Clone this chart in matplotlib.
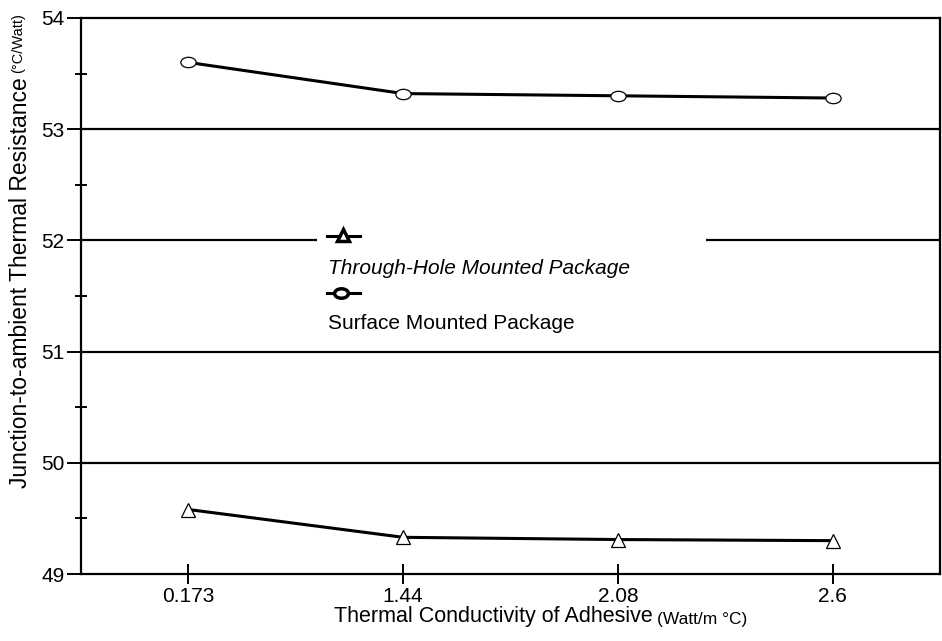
import matplotlib
matplotlib.use("Agg")
import matplotlib.pyplot as plt
from matplotlib.lines import Line2D
from matplotlib.patches import Rectangle
from matplotlib.path import Path
from matplotlib.transforms import Affine2D
from matplotlib.ticker import MultipleLocator

plt.rcParams["font.family"] = ["Liberation Sans", "DejaVu Sans"]

# data
conductivity = ["0.173", "1.44", "2.08", "2.6"]
through_hole = [49.58, 49.33, 49.31, 49.30]
surface = [53.60, 53.32, 53.30, 53.28]
labels = ["Through-Hole Mounted Package", "Surface Mounted Package"]

# flat open circle like the scanned original
ellipse = Path.unit_circle().transformed(Affine2D().scale(1.0, 0.68))

fig = plt.figure(figsize=(9.42, 6.41), dpi=100)
ax = fig.add_axes([0.086, 0.1045, 0.912, 0.8675])

x = list(range(1, len(conductivity) + 1))
ax.plot(x, surface, color="black", lw=2.2, marker=ellipse, ms=11,
        mfc="white", mec="black", mew=0.9, zorder=3)
ax.plot(x, through_hole, color="black", lw=2.2, marker="^", ms=10,
        mfc="white", mec="black", mew=0.9, zorder=3)

ax.set_xlim(0.5, 4.5)
ax.set_ylim(49, 54)
ax.set_xticks(x)
ax.set_xticklabels(conductivity)
ax.yaxis.set_major_locator(MultipleLocator(1))
ax.yaxis.set_minor_locator(MultipleLocator(0.5))

# gridlines at every integer
for v in range(50, 54):
    ax.axhline(v, color="black", lw=1.6, zorder=1)

for s in ["left", "bottom", "top", "right"]:
    ax.spines[s].set_linewidth(1.6)

ax.tick_params(axis="y", which="major", direction="out", length=10, width=1.4,
               labelsize=15, pad=2)
ax.tick_params(axis="y", which="minor", direction="inout", length=8, width=1.4)
ax.tick_params(axis="x", which="major", direction="inout", length=14, width=1.4,
               labelsize=15, pad=2)

# legend (stacked marker line above each label, white box over gridline)
ax.add_patch(Rectangle((0.275, 0.43), 0.452, 0.195, transform=ax.transAxes,
                       facecolor="white", edgecolor="none", zorder=2))
ax.add_line(Line2D([0.286, 0.325], [0.608, 0.608], transform=ax.transAxes,
                   color="black", lw=2.2, zorder=4))
ax.add_line(Line2D([0.305], [0.610], transform=ax.transAxes, marker="^", ms=8,
                   mfc="white", mec="black", mew=2.5, zorder=5))
ax.text(0.287, 0.550, labels[0], transform=ax.transAxes, fontsize=15,
        style="italic", va="center", ha="left", zorder=5)
ax.add_line(Line2D([0.286, 0.325], [0.505, 0.505], transform=ax.transAxes,
                   color="black", lw=2.2, zorder=4))
ax.add_line(Line2D([0.303], [0.505], transform=ax.transAxes, marker=ellipse,
                   ms=10, mfc="white", mec="black", mew=2.5, zorder=5))
ax.text(0.287, 0.451, labels[1], transform=ax.transAxes, fontsize=15,
        va="center", ha="left", zorder=5)

# axis titles, with smaller unit text
fig.canvas.draw()
r = fig.canvas.get_renderer()
inv = fig.transFigure.inverted()

tx = fig.text(0.355, 0.022, "Thermal Conductivity of Adhesive", fontsize=15.5,
              ha="left", va="bottom")
bb = inv.transform(tx.get_window_extent(r))
fig.text(bb[1][0] + 0.004, 0.022, "(Watt/m °C)", fontsize=12.5,
         ha="left", va="bottom")

ty = fig.text(0.010, 0.239, "Junction-to-ambient Thermal Resistance",
              fontsize=16.5, rotation=90, ha="left", va="bottom")
bb = inv.transform(ty.get_window_extent(r))
fig.text(0.012, bb[1][1] + 0.006, "(°C/Watt)", fontsize=10.5,
         rotation=90, ha="left", va="bottom")

fig.savefig("out.png", dpi=100)
